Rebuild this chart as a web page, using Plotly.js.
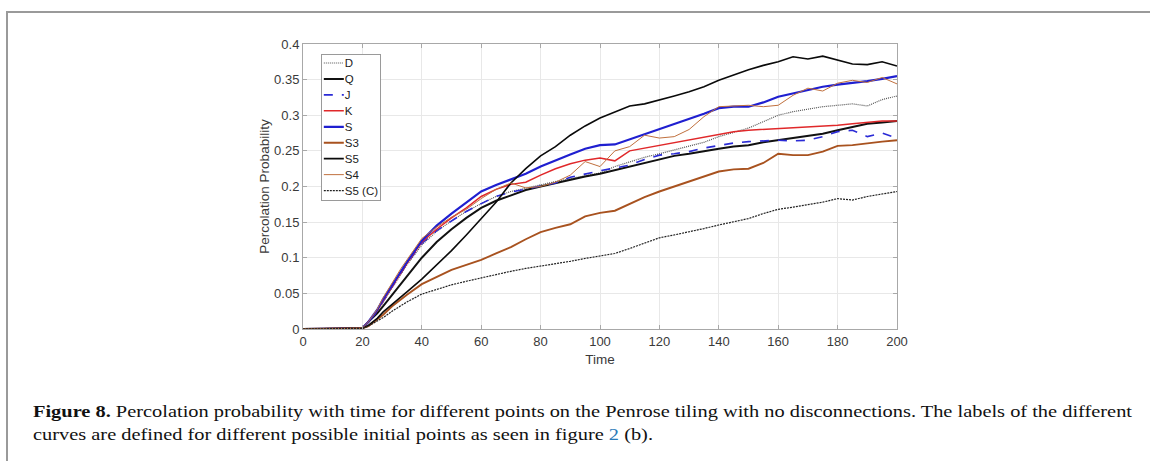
<!DOCTYPE html>
<html>
<head>
<meta charset="utf-8">
<script src="https://cdn.plot.ly/plotly-3.0.1.min.js"></script>
<style>
  html, body { margin: 0; padding: 0; background: #fff; width: 1150px; height: 461px; overflow: hidden; }
  #frame { position: absolute; left: 6px; top: 11px; width: 1200px; height: 500px; border-top: 2px solid #9a9a9a; border-left: 2px solid #9a9a9a; }
  #chart { position: absolute; left: 0; top: 0; width: 1150px; height: 380px; }
  .cap { position: absolute; left: 33px; font-family: "Liberation Serif", "DejaVu Serif", serif; font-size: 17px; line-height: 20px; color: #111; white-space: nowrap; transform-origin: 0 0; }
  .cap b { font-weight: bold; }
  .cap a { color: #2a7ab8; text-decoration: none; }
</style>
</head>
<body>
<div id="frame"></div>
<div id="chart"></div>
<div class="cap" id="cap1" style="top:402px;"><b>Figure 8.</b> Percolation probability with time for different points on the Penrose tiling with no disconnections. The labels of the different</div>
<div class="cap" id="cap2" style="top:425px;">curves are defined for different possible initial points as seen in figure <a>2</a> (b).</div>
<script>
const time = [0,5,10,15,19,20,22,25,27,30,33,35,40,45,50,55,60,65,70,75,80,85,90,95,100,105,110,115,120,125,130,135,140,145,150,155,160,165,170,175,180,185,190,195,200];

const D   = [0,0,0,0,0,0.001, 0.009,0.024,0.038,0.058,0.077,0.09, 0.118,0.137,0.152,0.165,0.176,0.186,0.193,0.198,0.203,0.207,0.211,0.215,0.219, 0.228,0.235,0.241,0.246,0.251,0.256,0.262,0.27,0.276,0.282,0.291,0.3,0.305,0.309,0.312,0.314,0.316,0.313,0.322,0.327];
const Q   = [0,0,0,0,0,0.001, 0.01,0.022,0.032,0.048,0.064,0.075, 0.1,0.122,0.14,0.156,0.17,0.18,0.188,0.195,0.2,0.205,0.209,0.214,0.218, 0.223,0.228,0.234,0.239,0.243,0.246,0.25,0.253,0.256,0.258,0.262,0.265,0.268,0.27,0.274,0.279,0.284,0.288,0.29,0.292];
const J   = [0,0,0,0,0,0.001, 0.009,0.025,0.039,0.06,0.079,0.092, 0.12,0.138,0.152,0.165,0.176,0.186,0.192,0.196,0.2,0.205,0.213,0.218,0.222, 0.226,0.23,0.238,0.244,0.246,0.249,0.254,0.258,0.261,0.263,0.264,0.265,0.264,0.265,0.27,0.277,0.279,0.27,0.275,0.268];
const K   = [0,0,0,0,0,0.001, 0.01,0.026,0.04,0.06,0.08,0.092, 0.122,0.14,0.156,0.17,0.186,0.196,0.203,0.206,0.216,0.225,0.232,0.237,0.24, 0.236,0.25,0.254,0.258,0.262,0.266,0.27,0.274,0.277,0.279,0.28,0.282,0.283,0.284,0.285,0.286,0.288,0.29,0.292,0.292];
const S   = [0,0,0,0,0,0.001, 0.01,0.027,0.042,0.062,0.082,0.094, 0.124,0.145,0.162,0.178,0.193,0.202,0.21,0.218,0.228,0.237,0.245,0.253,0.258, 0.259,0.266,0.273,0.281,0.287,0.295,0.302,0.31,0.312,0.312,0.318,0.326,0.331,0.336,0.34,0.343,0.345,0.348,0.351,0.355];
const S3  = [0,0,0,0,0,0.001, 0.004,0.013,0.02,0.032,0.042,0.048, 0.063,0.073,0.083,0.09,0.097,0.106,0.115,0.126,0.136,0.142,0.147,0.158,0.163, 0.166,0.176,0.185,0.193,0.2,0.207,0.214,0.221,0.224,0.225,0.233,0.246,0.244,0.244,0.249,0.257,0.258,0.261,0.263,0.265];
const S5  = [0,0,0,0,0,0.001, 0.005,0.015,0.024,0.035,0.045,0.052, 0.07,0.09,0.11,0.132,0.155,0.178,0.205,0.225,0.243,0.256,0.272,0.285,0.296, 0.305,0.313,0.316,0.321,0.327,0.333,0.34,0.349,0.357,0.364,0.37,0.375,0.382,0.379,0.383,0.377,0.372,0.371,0.375,0.369];
const S4  = [0,0,0,0,0,0.001, 0.01,0.028,0.044,0.065,0.085,0.097, 0.127,0.143,0.157,0.168,0.183,0.196,0.205,0.198,0.2,0.206,0.216,0.235,0.228, 0.25,0.256,0.272,0.268,0.27,0.28,0.298,0.312,0.313,0.314,0.312,0.314,0.328,0.338,0.334,0.345,0.349,0.346,0.353,0.344];
const S5C = [0,0,0,0,0,0.001, 0.004,0.011,0.016,0.025,0.033,0.038, 0.049,0.056,0.062,0.067,0.072,0.077,0.081,0.085,0.088,0.092,0.095,0.099,0.102, 0.106,0.113,0.12,0.128,0.132,0.136,0.141,0.146,0.15,0.155,0.162,0.168,0.171,0.174,0.178,0.183,0.181,0.186,0.19,0.193];

const seriesNames = ['D','Q','J','K','S','S3','S5','S4','S5 (C)'];
const seriesData  = [D, Q, J, K, S, S3, S5, S4, S5C];
const styles = [
  {color:'#555555', width:1.2, dash:'1px,1px'},
  {color:'#111111', width:2.0, dash:'solid'},
  {color:'#2b2bd6', width:1.6, dash:'dash'},
  {color:'#e0282a', width:1.5, dash:'solid'},
  {color:'#1f1fd0', width:2.2, dash:'solid'},
  {color:'#a8521f', width:1.9, dash:'solid'},
  {color:'#0a0a0a', width:1.6, dash:'solid'},
  {color:'#c0703e', width:1.0, dash:'solid'},
  {color:'#222222', width:1.2, dash:'2px,1px'}
];

const traces = seriesNames.map((n, i) => ({
  x: time, y: seriesData[i], name: n, type: 'scatter', mode: 'lines',
  line: styles[i]
}));

const axisCommon = {
  showgrid: true, gridcolor: '#e8e8e8', gridwidth: 1,
  showline: true, linecolor: '#a8a8a8', linewidth: 1, mirror: 'ticks',
  ticks: 'inside', ticklen: 4, tickcolor: '#a8a8a8',
  zeroline: false,
  tickfont: {family: 'Liberation Sans, Arial, sans-serif', size: 13, color: '#3a3a3a'},
  title: {font: {family: 'Liberation Sans, Arial, sans-serif', size: 13.5, color: '#3a3a3a'}}
};

const layout = {
  width: 1150, height: 380,
  margin: {l: 303, r: 253, t: 44, b: 51},
  paper_bgcolor: 'rgba(0,0,0,0)', plot_bgcolor: '#ffffff',
  showlegend: true,
  legend: {
    x: 0.03, y: 0.965, xanchor: 'left', yanchor: 'top',
    bgcolor: '#ffffff', bordercolor: '#9a9a9a', borderwidth: 1,
    font: {family: 'Liberation Sans, Arial, sans-serif', size: 11.5, color: '#222'},
    tracegroupgap: 0
  },
  xaxis: Object.assign({}, axisCommon, {
    range: [0, 200], tickvals: [0,20,40,60,80,100,120,140,160,180,200],
    title: Object.assign({}, axisCommon.title, {text: 'Time', standoff: 6})
  }),
  yaxis: Object.assign({}, axisCommon, {
    range: [0, 0.4], tickvals: [0,0.05,0.1,0.15,0.2,0.25,0.3,0.35,0.4],
    ticktext: ['0','0.05','0.1','0.15','0.2','0.25','0.3','0.35','0.4'],
    title: Object.assign({}, axisCommon.title, {text: 'Percolation Probability', standoff: 1})
  })
};

Plotly.newPlot('chart', traces, layout, {displayModeBar: false, staticPlot: true}).then(gd => {
  // compact legend like the MATLAB original
  const items = gd.querySelectorAll('.legend .traces');
  items.forEach((g, i) => {
    g.setAttribute('transform', 'translate(1,' + (9 + i * 15.95).toFixed(2) + ')');
    g.querySelectorAll('.legendlines path, .legendpoints path').forEach(p => {
      if (p.getAttribute('d') && p.getAttribute('d').indexOf('h30') >= 0) p.setAttribute('d', 'M2,0h20');
    });
    const t = g.querySelector('text.legendtext');
    if (t) { t.setAttribute('x', 23); t.querySelectorAll('tspan').forEach(s => { if (s.hasAttribute('x')) s.setAttribute('x', 23); }); }
    const r = g.querySelector('rect.legendtoggle');
    if (r) r.setAttribute('width', 56);
  });
  const bg = gd.querySelector('.legend rect.bg');
  if (bg) { bg.setAttribute('width', 59); bg.setAttribute('height', 146); }
  // caption width: stretch to match the original line length
  const c1 = document.getElementById('cap1'), c2 = document.getElementById('cap2');
  const s = 1099 / c1.getBoundingClientRect().width;
  c1.style.transform = 'scaleX(' + s + ')';
  c2.style.transform = 'scaleX(' + s + ')';
});
</script>
</body>
</html>
